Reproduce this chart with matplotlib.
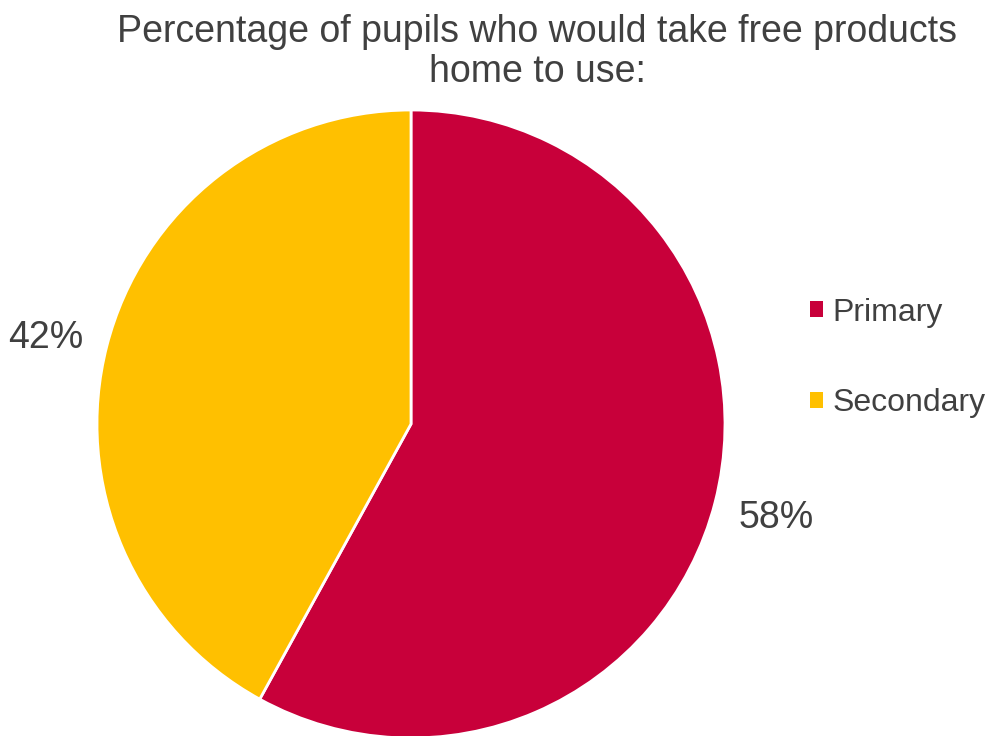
import matplotlib
matplotlib.use("Agg")
import matplotlib.pyplot as plt
from matplotlib.patches import Patch

plt.rcParams['font.family'] = ['Liberation Sans', 'DejaVu Sans']

categories = ["Primary", "Secondary"]
shares = [58, 42]
colors = ["#C8003A", "#FFC000"]
title = "Percentage of pupils who would take free products\nhome to use:"
text_color = "#404040"

W, H = 990, 736
fig = plt.figure(figsize=(W / 100, H / 100), dpi=100)

cx, cy, r = 411, 424, 314
ax = fig.add_axes([(cx - r) / W, (H - cy - r) / H, 2 * r / W, 2 * r / H])
wedges, texts, autotexts = ax.pie(
    shares, colors=colors, startangle=90, counterclock=False,
    autopct='%1.0f%%', pctdistance=1.2, radius=1,
    wedgeprops=dict(edgecolor="white", linewidth=2),
    textprops=dict(color=text_color, fontsize=27),
)
# nudge the left-hand label slightly downward
x, y = autotexts[1].get_position()
autotexts[1].set_position((x, y - 0.025))

ax.set_xlim(-1, 1)
ax.set_ylim(-1, 1)
ax.set_aspect('equal')
ax.axis('off')

fig.text(537 / W, 1 - 52 / H, title, ha='center', va='center',
         fontsize=27, color=text_color, linespacing=1.15)

handles = [Patch(facecolor=c, edgecolor='none') for c in colors]
fig.legend(handles, categories, loc='center left',
           bbox_to_anchor=(781 / W, 1 - 358 / H), frameon=False,
           fontsize=23, labelcolor=text_color, handlelength=0.4,
           handleheight=0.4, handletextpad=0.3, labelspacing=1.9)

fig.savefig("out.png", dpi=100)
